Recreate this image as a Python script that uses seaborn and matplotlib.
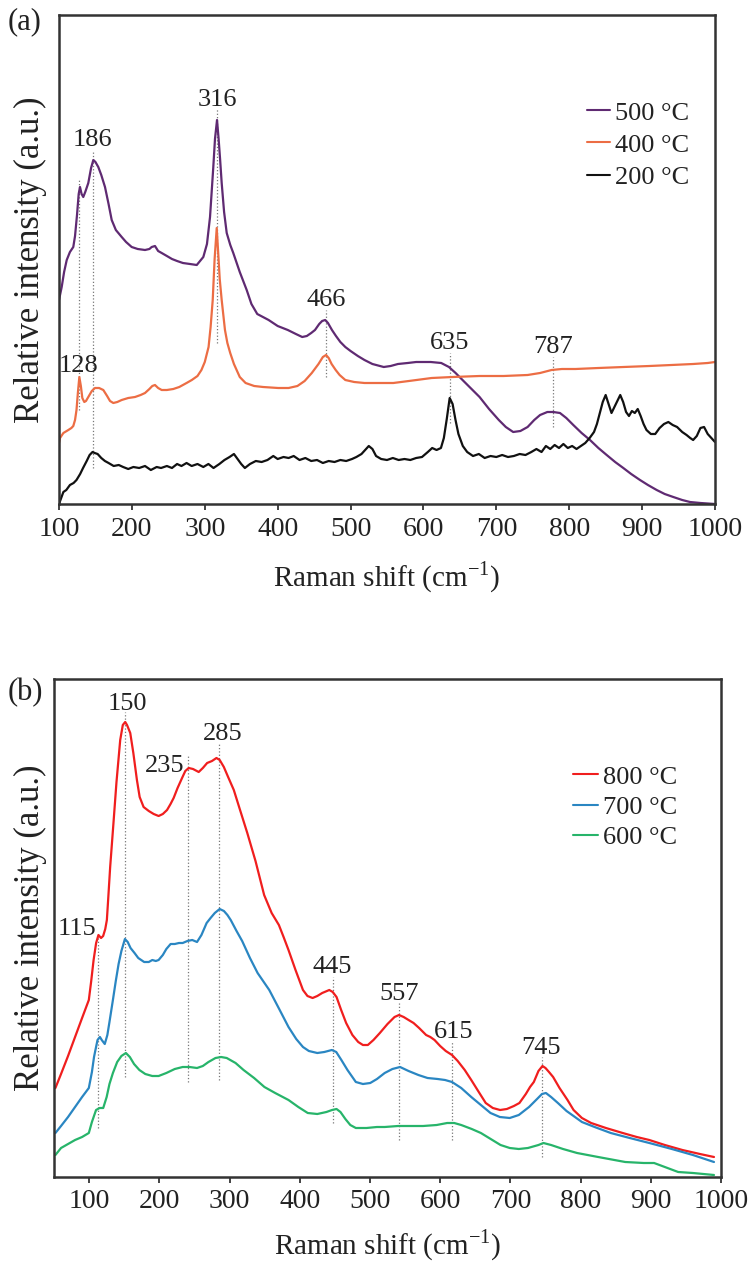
import numpy as np
import pandas as pd
import seaborn as sns
import matplotlib
matplotlib.use("Agg")
import matplotlib.pyplot as plt

# ---- panel (a): Raman shift (cm-1) / relative intensity (a.u.)
a_500_x = [100, 103.7, 107, 110.6, 115, 119.6, 122, 124.7, 127, 128.8, 131, 133.3, 136, 140.2,
           144, 147.1, 150, 153.9, 158, 163.1, 168, 172.3, 178, 186, 192, 199.7, 208, 218,
           224, 227.2, 231.7, 236, 240.9, 248, 255, 262, 270, 279.7, 289, 298, 303, 307.2,
           311.7, 314, 316.8, 319, 321, 323.2, 326.5, 330.1, 335, 339.1, 348, 357.5, 364,
           372, 387.6, 400, 413.9, 425, 433.7, 440, 446, 451.2, 457, 461, 465.2, 469, 474.5,
           480, 486, 492.8, 500, 510, 519.1, 530, 545.5, 555, 565, 578.4, 590, 598, 610,
           624.4, 635, 644.1, 655, 666, 677, 690, 703.4, 713, 723.1, 733, 742.9, 752, 760,
           770, 778.1, 787.3, 796, 805.6, 817, 828.5, 840, 851.4, 863, 874.2, 885, 897.1,
           908, 920, 931, 942.8, 955, 965.7, 980, 1000]
a_500_y = [204, 217, 232, 244, 252, 257, 268, 289, 310, 317, 310, 307, 312, 321,
           336, 344, 342, 337, 329, 317, 300, 284, 274, 267, 262, 257, 255, 254,
           255, 257, 258, 253, 251, 248, 245, 243, 241, 240, 239, 247, 260, 287,
           337, 365, 384, 365, 345, 321, 292, 271, 259, 251, 232, 214, 200,
           190, 184, 178, 174, 170, 167, 168, 171, 174, 180, 183, 184, 181, 174,
           168, 162, 157, 153, 148, 144, 140, 137, 138, 140, 141, 142, 142, 142,
           141, 137, 131, 123, 115, 107, 95, 84, 77, 72, 73, 77, 84, 89,
           92, 92, 91, 86, 79, 71, 64, 56, 49, 42, 36, 30, 24,
           19, 14, 10, 7, 4, 2, 1, 0]

a_400_x = [100, 101.4, 106, 112.8, 117, 119.6, 122, 124, 126, 127.9, 130, 132, 134.7, 137,
           140.2, 145, 149.4, 155, 160.8, 166, 170, 174.5, 180, 186, 195, 204.3, 212, 218,
           224, 228, 231.7, 236, 240.9, 248, 256.8, 265, 275, 282.2, 290, 295.4, 300, 305.2,
           308, 310.9, 313.5, 316.4, 318.5, 320.5, 323.2, 327.7, 331, 334.9, 340, 348, 356,
           367.8, 380, 400.7, 415, 427.1, 437, 446.8, 456, 462, 466.4, 470, 474, 479.6, 485,
           492.8, 505, 519.1, 540, 558.6, 580, 611.3, 640, 677, 710, 742.9, 760, 775.8, 790,
           808.6, 840, 874.5, 910, 940.3, 970, 990, 1000]
a_400_y = [61, 66, 71, 74, 76, 78, 84, 94, 112, 127, 118, 106, 102, 103,
           107, 113, 116, 116, 114, 108, 103, 101, 102, 104, 106, 107, 109, 111,
           115, 118, 119, 116, 114, 114, 115, 117, 121, 124, 128, 134, 142, 157,
           177, 204, 245, 276, 250, 225, 204, 174, 161, 151, 140, 127, 121,
           118, 117, 116, 116, 118, 123, 131, 140, 147, 149, 146, 140, 134, 129,
           124, 122, 121, 121, 121, 123, 126, 127, 128, 128, 129, 131, 134, 135,
           135, 136, 137, 138, 139, 140, 141, 142]

a_200_x = [100, 102, 106, 110, 115, 120, 124, 129, 133, 138, 142, 146, 149, 153, 158, 163,
           168, 175, 182, 188, 195, 202, 210, 218, 226, 234, 240, 248, 255, 262, 268, 275,
           282, 290, 298, 305, 312, 320, 327, 334, 340, 344, 350, 355, 362, 370, 378, 386,
           394, 400, 408, 415, 422, 430, 438, 446, 454, 462, 470, 478, 486, 494, 502, 508,
           515, 520, 525, 530, 535, 542, 550, 558, 566, 574, 582, 590, 598, 606, 612, 618,
           624, 628, 632, 636, 640, 644, 648, 654, 660, 668, 676, 684, 692, 700, 708, 716,
           724, 732, 740, 748, 755, 762, 768, 774, 780, 786, 792, 798, 804, 810, 816, 822,
           828, 834, 838, 842, 846, 850, 854, 858, 862, 866, 870, 874, 878, 882, 886, 890,
           894, 898, 902, 906, 912, 918, 924, 930, 936, 942, 948, 955, 961, 966, 970, 975,
           980, 985, 990, 995, 1000]
a_200_y = [0, 4, 12, 14, 19, 21, 24, 30, 36, 43, 49, 52, 51, 50, 46, 43,
           41, 38, 39, 37, 35, 37, 36, 38, 34, 37, 36, 38, 36, 40, 38, 41,
           38, 40, 37, 40, 36, 40, 44, 47, 50, 46, 40, 36, 40, 43, 42, 44,
           48, 45, 47, 46, 48, 44, 46, 43, 44, 41, 43, 42, 44, 43, 45, 47,
           50, 54, 58, 55, 48, 45, 44, 46, 44, 45, 44, 46, 47, 52, 56, 54,
           56, 66, 85, 106, 100, 84, 70, 58, 52, 48, 50, 46, 48, 47, 49, 47,
           48, 50, 49, 52, 55, 52, 58, 55, 59, 56, 60, 56, 58, 55, 58, 61,
           66, 72, 80, 91, 102, 109, 100, 91, 97, 103, 109, 102, 92, 88, 93, 91,
           95, 88, 80, 74, 70, 70, 76, 80, 82, 79, 77, 72, 69, 66, 64, 68,
           76, 77, 70, 66, 62]

# ---- panel (b)
b_800_x = [52, 60, 70, 80, 90, 99.6, 103, 106.4, 110, 113.3, 117, 120, 123, 125.3, 127.1, 130,
           134.7, 139, 144.3, 148, 151.4, 154, 158.6, 163, 168.1, 172, 177.6, 185, 192, 199,
           205, 211, 216, 220.4, 226, 232.4, 237, 241.9, 248, 256.1, 262, 268.1, 275, 281.4,
           286, 291.9, 298, 306.1, 315, 325.3, 337, 349.3, 360, 370.3, 377, 384, 394, 404.6,
           411, 418.3, 425, 432, 442.1, 447, 452.4, 459, 466.1, 475, 483.3, 490, 497, 505,
           514.1, 525, 535, 541.4, 548, 555, 562.1, 570, 580, 586, 592, 600, 608, 616.9, 625,
           635, 644.3, 655, 664.9, 675, 685.4, 695, 705, 712.9, 722, 728, 733.4, 740, 745.7,
           750, 755, 760.9, 770, 781.4, 790, 801.9, 815, 836.1, 860, 880, 897.9, 920, 945,
           970, 990]
b_800_y = [89, 103, 121, 140, 159, 177, 196, 217, 234, 242, 239, 241, 248, 257, 277, 310,
           354, 395, 437, 452, 455, 452, 444, 424, 397, 380, 370, 366, 363, 361,
           363, 367, 373, 379, 389, 399, 406, 409, 408, 405, 409, 414, 416, 419,
           417, 410, 400, 387, 367, 344, 316, 282, 264, 252, 240, 227, 207, 187,
           181, 179, 181, 184, 187, 185, 180, 167, 154, 142, 135, 132, 132, 137,
           144, 153, 160, 162, 160, 157, 154, 149, 142, 140, 137, 131, 126, 122, 116,
           107, 97, 85, 74, 69, 67, 68, 71, 74, 83, 90, 95, 106, 111,
           109, 105, 100, 89, 77, 67, 59, 54, 49, 44, 40, 37, 32, 27,
           23, 20]

b_700_x = [52, 60, 70, 80, 90, 99.6, 104, 107, 109.9, 112, 115.4, 118, 122.3, 126, 129, 133.9,
           138, 142, 146, 151, 155, 159, 164.7, 170, 178.4, 185, 190, 195, 199, 205, 210,
           216.1, 222, 228, 233.3, 240, 246.9, 253.7, 260, 267.4, 273, 279, 286, 292, 297,
           301.7, 310, 318, 329.1, 340, 356.6, 370, 384, 395, 404.6, 413, 425, 435, 445.7,
           452, 459.3, 468, 479.9, 490, 500.4, 510, 521, 532, 542.9, 555, 569, 582, 596.4,
           607, 616.9, 630, 644.3, 658, 671.7, 685, 699.1, 712, 726.6, 738, 745, 750.6, 758,
           767.7, 780, 790, 801.9, 820, 843, 870, 897.9, 930, 960, 990]
b_700_y = [44, 51, 60, 70, 80, 89, 105, 120, 130, 137, 140, 137, 133, 142, 155, 177,
           196, 213, 226, 238, 235, 229, 224, 219, 215, 215, 217, 216, 217, 222, 228,
           233, 233, 234, 234, 236, 237, 235, 242, 254, 259, 264, 268, 266, 262,
           257, 246, 236, 219, 204, 187, 169, 150, 138, 130, 126, 124, 125, 127,
           125, 117, 107, 95, 93, 94, 98, 104, 108, 110, 106, 102, 99, 98,
           97, 95, 89, 80, 72, 64, 60, 59, 62, 70, 78, 83, 84, 80,
           74, 66, 61, 55, 50, 44, 39, 34, 28, 22, 15]

b_600_x = [52, 60, 70, 80, 90, 99.6, 104, 109.9, 115, 120.1, 125, 129, 133.9, 140, 146, 152.4,
           158, 164, 171.6, 180, 190, 199, 210, 222, 233.3, 243, 253.7, 262, 270, 280, 288,
           296, 308.6, 320, 335, 349.7, 365, 384, 398, 411.4, 425, 438, 446, 452.4, 458, 465,
           472, 479.9, 495, 510, 521, 540, 560, 575.7, 595, 610, 620, 630, 645, 658, 672,
           686, 699.1, 712, 725, 740, 747.1, 758, 775, 795, 825, 863.6, 890, 904.7, 920, 939,
           960, 990]
b_600_y = [22, 29, 33, 37, 40, 44, 55, 67, 69, 69, 80, 93, 104, 115, 121, 124,
           120, 113, 107, 103, 101, 101, 104, 108, 110, 110, 109, 111, 115, 119, 120,
           119, 114, 107, 99, 90, 84, 77, 70, 64, 63, 65, 67, 68, 65, 58,
           52, 49, 49, 50, 50, 51, 51, 51, 52, 54, 54, 52, 48, 44, 38,
           32, 29, 28, 29, 32, 34, 32, 28, 24, 20, 15, 14, 14, 10, 5,
           4, 2]

# peak marks: position, label, dotted line top / bottom
a_peak_x = [127.4, 146.6, 316.8, 466.3, 636.4, 777.7]
a_peak_lbl = ["128", "186", "316", "466", "635", "787"]
a_peak_top = [324, 354, 396, 194, 151, 147]
a_peak_bot = [94, 36, 161, 127, 81, 77]

b_peak_x = [113.3, 151.4, 241.0, 285.0, 447.1, 541.4, 616.9, 745.7]
b_peak_lbl = ["115", "150", "235", "285", "445", "557", "615", "745"]
b_peak_top = [244, 465, 422, 434, 200, 174, 135, 120]
b_peak_bot = [49, 100, 95, 97, 54, 37, 37, 20]

sns.set_theme(style="white")
plt.rcParams['font.family'] = ['Liberation Serif', 'DejaVu Serif']
plt.rcParams['mathtext.fontset'] = 'custom'
plt.rcParams['mathtext.rm'] = 'Liberation Serif'

fig = plt.figure(figsize=(7.52, 12.68), dpi=100)
ax1 = fig.add_axes([59 / 752, 1 - 504 / 1268, 656 / 752, 489 / 1268])
ax2 = fig.add_axes([54 / 752, 1 - 1177 / 1268, 667 / 752, 498 / 1268])


def long_df(xs, ys, names):
    parts = []
    for x, y, n in zip(xs, ys, names):
        parts.append(pd.DataFrame({"shift": x, "intensity": y, "temp": n}))
    return pd.concat(parts, ignore_index=True)


df_a = long_df([a_500_x, a_400_x, a_200_x], [a_500_y, a_400_y, a_200_y],
               ["500 °C", "400 °C", "200 °C"])
df_b = long_df([b_800_x, b_700_x, b_600_x], [b_800_y, b_700_y, b_600_y],
               ["800 °C", "700 °C", "600 °C"])

pal_a = {"500 °C": "#5f2a72", "400 °C": "#ec6d44", "200 °C": "#111111"}
pal_b = {"800 °C": "#f01e1e", "700 °C": "#2a86c2", "600 °C": "#27b46a"}

sns.lineplot(data=df_a, x="shift", y="intensity", hue="temp", palette=pal_a,
             hue_order=["500 °C", "400 °C", "200 °C"], estimator=None, sort=True,
             linewidth=1.6, ax=ax1)
sns.lineplot(data=df_b, x="shift", y="intensity", hue="temp", palette=pal_b,
             hue_order=["800 °C", "700 °C", "600 °C"], estimator=None, sort=True,
             linewidth=1.6, ax=ax2)

ax1.set_xlim(100, 1000)
ax1.set_ylim(0, 489)
ax2.set_xlim(50, 1000)
ax2.set_ylim(0, 498)

# dotted peak markers and their labels (offsets in pixels from the line top)
for x, top, bot in zip(a_peak_x, a_peak_top, a_peak_bot):
    ax1.plot([x, x], [bot, top], ls=":", color="#777777", lw=0.9, zorder=1)
off_a = {"128": (0, -192), "316": (0, 2)}
for x, lab, top in zip(a_peak_x, a_peak_lbl, a_peak_top):
    dx, dy = off_a.get(lab, (0, 4))
    ax1.annotate(lab, (x, top), xytext=(dx, dy), textcoords="offset pixels",
                 ha="center", va="baseline", fontsize=19, color="#222222")

for x, top, bot in zip(b_peak_x, b_peak_top, b_peak_bot):
    ax2.plot([x, x], [bot, top], ls=":", color="#777777", lw=0.9, zorder=1)
off_b = {"115": (-21, -2), "150": (2, 2), "235": (-23, -17), "285": (4, 3),
         "445": (-1, 4), "557": (0, 3), "615": (2, 4), "745": (-1, 3)}
for x, lab, top in zip(b_peak_x, b_peak_lbl, b_peak_top):
    dx, dy = off_b.get(lab, (0, 3))
    ax2.annotate(lab, (x, top), xytext=(dx, dy), textcoords="offset pixels",
                 ha="center", va="baseline", fontsize=19, color="#222222")

for ax in (ax1, ax2):
    ax.set_xticks(range(100, 1001, 100))
    ax.set_yticks([])
    ax.tick_params(axis="x", bottom=True, length=4, width=1.2, pad=5,
                   labelsize=20, colors="#222222")
    for s in ax.spines.values():
        s.set_visible(True)
        s.set_color("#333333")
        s.set_linewidth(1.8)
    ax.set_ylabel("Relative intensity (a.u.)", fontsize=25, color="#222222",
                  va="center")
    ax.set_facecolor("white")

ax1.set_xlabel("Raman shift (cm$^{\\mathregular{-1}}$)", fontsize=21,
               color="#222222", labelpad=13)
ax2.set_xlabel("Raman shift (cm$^{\\mathregular{-1}}$)", fontsize=21,
               color="#222222", labelpad=9)
ax1.yaxis.set_label_coords(-29 / 656, 0.5)
ax2.yaxis.set_label_coords(-24 / 667, 0.5)

leg1 = ax1.legend(loc="upper left", bbox_to_anchor=(0.805, 0.824), frameon=False,
                  fontsize=19, handlelength=0.87, handletextpad=0.2,
                  labelspacing=0.33, borderpad=0, borderaxespad=0)
leg2 = ax2.legend(loc="upper left", bbox_to_anchor=(0.778, 0.827), frameon=False,
                  fontsize=19, handlelength=0.95, handletextpad=0.2,
                  labelspacing=0.26, borderpad=0, borderaxespad=0)
for leg in (leg1, leg2):
    for t in leg.get_texts():
        t.set_color("#222222")
    for h in leg.get_lines():
        h.set_linewidth(1.5)

fig.text(25 / 752, 1 - 22 / 1268, "(a)", fontsize=22, ha="center", va="center",
         color="#222222")
fig.text(25 / 752, 1 - 693 / 1268, "(b)", fontsize=22, ha="center", va="center",
         color="#222222")

fig.savefig("out.png", dpi=100, facecolor="white")
